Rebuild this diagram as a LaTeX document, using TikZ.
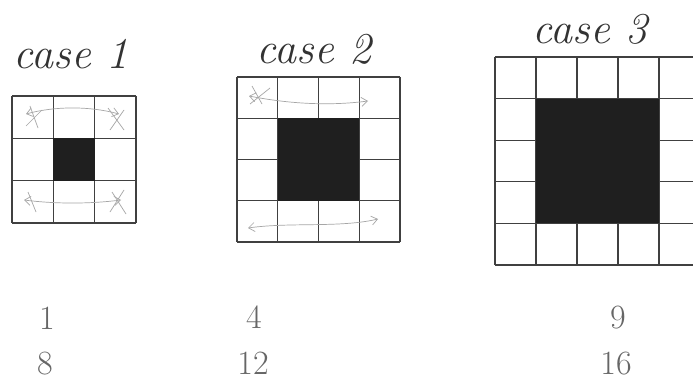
\documentclass[tikz,border=0pt]{standalone}
\usetikzlibrary{arrows.meta}
\begin{document}
\begin{tikzpicture}[x=1pt,y=-1pt,
  gl/.style={draw=black!75,line width=1.2pt},
  blk/.style={fill=black!88},
  lbl/.style={font=\fontsize{44}{48}\selectfont\itshape,text=black!80,inner sep=0pt},
  num/.style={font=\fontsize{34}{38}\selectfont,text=black!60,inner sep=0pt},
  sk/.style={draw=black!35,line width=0.7pt},
  skarr/.style={sk,{Straight Barb[length=6pt,width=9pt]}-{Straight Barb[length=6pt,width=9pt]}}]
\useasboundingbox (0,0) rectangle (693,385);
\clip (0,0) rectangle (693,385);
\fill[white] (0,0) rectangle (693,385);
% labels
\node[lbl] (c1) at (71,54) {case 1};
\node[lbl] (c2) at (314,49) {case 2};
\node[lbl] (c3) at (590,29) {case 3};
% case 1 grid
\foreach \i in {0,...,3} {
  \draw[gl] (12+\i*41.3,96) -- (12+\i*41.3,223);
  \draw[gl] (12,96+\i*42.3) -- (136,96+\i*42.3);
}
\fill[blk] (53.3,138.3) rectangle (94.6,180.6);
% case 2 grid
\foreach \i in {0,...,4} {
  \draw[gl] (237+\i*40.75,77) -- (237+\i*40.75,242);
  \draw[gl] (237,77+\i*41.25) -- (400,77+\i*41.25);
}
\fill[blk] (277.75,118.25) rectangle (358.5,200.75);
% case 3 grid
\foreach \i in {0,...,5} {
  \draw[gl] (495+\i*41,57) -- (495+\i*41,265);
  \draw[gl] (495,57+\i*41.6) -- (700,57+\i*41.6);
}
\fill[blk] (536,98.6) rectangle (659,223.4);
% sketch marks case 1
\coordinate (a1) at (26,114); \coordinate (b1) at (119,114);
\draw[skarr] (a1) .. controls (55,106) and (90,106) .. (b1);
\draw[sk] (30,106) -- (38,128); \draw[sk] (26,126) -- (42,110);
\draw[sk] (108,108) -- (124,130); \draw[sk] (110,130) -- (124,110);
\coordinate (a2) at (24,200); \coordinate (b2) at (121,200);
\draw[skarr] (a2) .. controls (55,204) and (90,204) .. (b2);
\draw[sk] (28,192) -- (36,212); \draw[sk] (112,192) -- (126,214); \draw[sk] (110,212) -- (124,190);
% sketch marks case 2
\coordinate (a3) at (249,96); \coordinate (b3) at (368,101);
\draw[skarr] (a3) .. controls (290,104) and (330,106) .. (b3);
\draw[sk] (252,86) -- (262,104); \draw[sk] (250,104) -- (270,88);
\coordinate (a4) at (248,228); \coordinate (b4) at (378,219);
\draw[skarr] (a4) .. controls (290,222) and (340,228) .. (b4);
% numbers
\node[num] (n1) at (47,318) {1};
\node[num] (n2) at (254,317) {4};
\node[num] (n3) at (618,318) {9};
\node[num] (m1) at (45,364) {8};
\node[num] (m2) at (253,363) {12};
\node[num] (m3) at (616,364) {16};
\end{tikzpicture}
\end{document}
